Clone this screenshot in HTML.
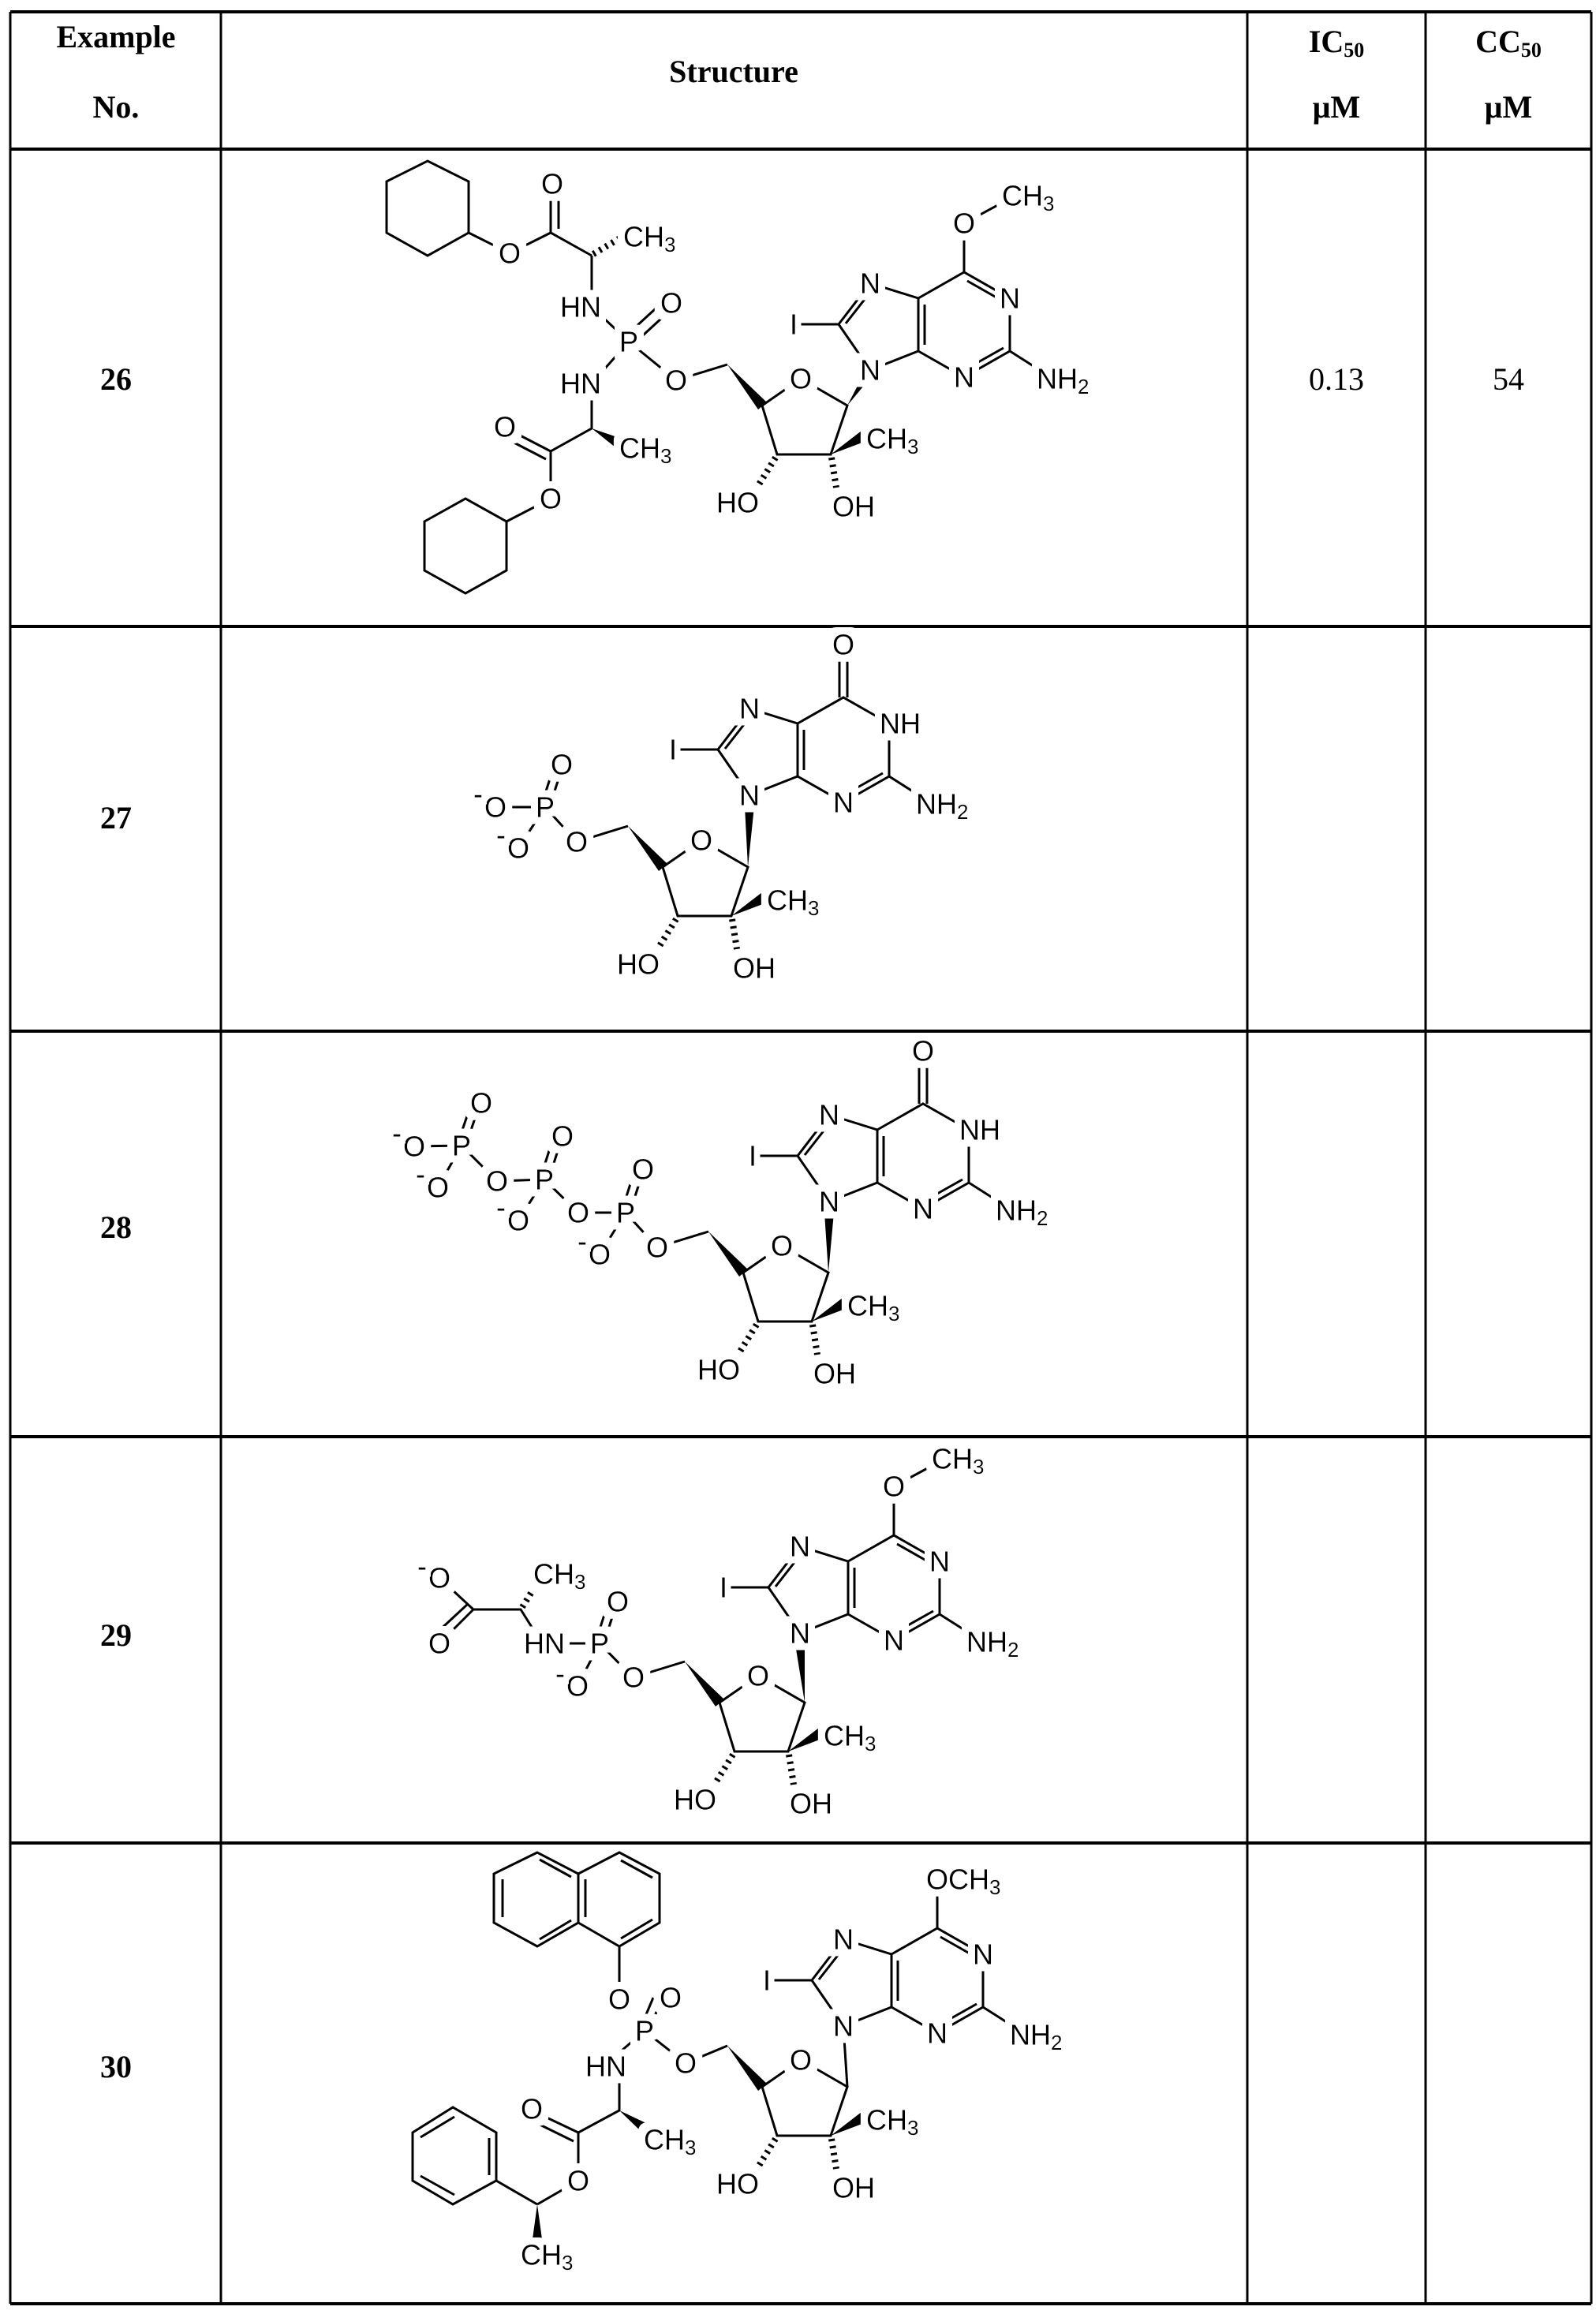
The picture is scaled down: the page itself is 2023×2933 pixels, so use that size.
<!DOCTYPE html>
<html><head><meta charset="utf-8"><style>
html,body{margin:0;padding:0;background:#fff;}
svg{display:block;}
.h{font-family:"Liberation Serif",serif;font-weight:bold;font-size:40px;text-anchor:middle;}
.v{font-family:"Liberation Serif",serif;font-size:40px;text-anchor:middle;}
.a{font-family:"Liberation Sans",sans-serif;font-size:36px;dominant-baseline:central;text-anchor:middle;fill:#000;filter:url(#halo);}
.s{text-anchor:start;}
.b{fill:none;stroke:#000;stroke-width:3;}
.hs{fill:none;stroke:#000;stroke-width:8;stroke-dasharray:3 6;}
</style></head><body>
<svg width="2023" height="2933" viewBox="0 0 2023 2933" xmlns="http://www.w3.org/2000/svg">
<defs>
<filter id="halo" x="-40%" y="-40%" width="180%" height="180%">
<feMorphology in="SourceAlpha" operator="dilate" radius="9" result="d"/>
<feFlood flood-color="#ffffff"/>
<feComposite in2="d" operator="in" result="w"/>
<feMerge><feMergeNode in="w"/><feMergeNode in="SourceGraphic"/></feMerge>
</filter>
</defs>
<rect width="2023" height="2933" fill="#fff"/>
<!-- table -->
<g stroke="#000" stroke-width="4">
<line x1="13" y1="15" x2="2017" y2="15"/>
<line x1="13" y1="189" x2="2017" y2="189"/>
<line x1="13" y1="794" x2="2017" y2="794"/>
<line x1="13" y1="1307" x2="2017" y2="1307"/>
<line x1="13" y1="1821" x2="2017" y2="1821"/>
<line x1="13" y1="2336" x2="2017" y2="2336"/>
<line x1="13" y1="2920" x2="2017" y2="2920"/>
</g>
<g stroke="#000" stroke-width="3">
<line x1="13" y1="15" x2="13" y2="2920"/>
<line x1="280" y1="15" x2="280" y2="2920"/>
<line x1="1581" y1="15" x2="1581" y2="2920"/>
<line x1="1807" y1="15" x2="1807" y2="2920"/>
<line x1="2017" y1="15" x2="2017" y2="2920"/>
</g>
<text class="h" x="147" y="60">Example</text>
<text class="h" x="147" y="149">No.</text>
<text class="h" x="930" y="104">Structure</text>
<text class="h" x="1694" y="66">IC<tspan font-size="26" dy="6">50</tspan></text>
<text class="h" x="1694" y="149">μM</text>
<text class="h" x="1912" y="66">CC<tspan font-size="26" dy="6">50</tspan></text>
<text class="h" x="1912" y="149">μM</text>
<text class="h" x="147" y="494">26</text>
<text class="v" x="1694" y="494">0.13</text>
<text class="v" x="1912" y="494">54</text>
<text class="h" x="147" y="1050">27</text>
<text class="h" x="147" y="1569">28</text>
<text class="h" x="147" y="2086">29</text>
<text class="h" x="147" y="2633">30</text>

<!-- ===== Row 26 ===== -->
<path class="b" d="M490 230 L542 204 L594 230 L594 295 L542 324 L490 295 Z M594 295 L646 321 L698 295 L750 324 M698 295 L698 240 M708 290 L708 245 M750 324 L750 389 L797 433 L750 486 L750 543 L698 572 L698 632 L642 661 M797 433 L857 482 M792 427 L843 380 M802 437 L853 390 M698 572 L642 543 M692 582 L638 554 M538 661 L590 632 L642 661 L642 723 L590 752 L538 723 Z"/>
<line class="hs" x1="752" y1="322" x2="789" y2="300"/>
<polygon points="750,543 780,567 788,556"/>
<text class="a" x="646" y="321">O</text>
<text class="a" x="700" y="233">O</text>
<text class="a s" x="790" y="300">CH<tspan font-size="26" dy="10">3</tspan></text>
<text class="a" x="736" y="389">HN</text>
<text class="a" x="797" y="433">P</text>
<text class="a" x="851" y="384">O</text>
<text class="a" x="736" y="486">HN</text>
<text class="a" x="640" y="541">O</text>
<text class="a s" x="785" y="568">CH<tspan font-size="26" dy="10">3</tspan></text>
<text class="a" x="698" y="632">O</text>
<g transform="translate(966,514)">
<path class="b" d="M0 0 L49 -34 L108 0 L87 62 L19 62 Z M-44 -52 L-109 -32"/>
<polygon points="-44,-52 -5,5 6,-4"/>
<polygon points="87,62 126,32 132,45"/>
<line class="hs" x1="17" y1="66" x2="-4" y2="100"/>
<line class="hs" x1="88" y1="66" x2="94" y2="104"/>
<text class="a" x="49" y="-34">O</text>
<text class="a" x="-109" y="-32">O</text>
<text class="a s" x="132" y="42">CH<tspan font-size="26" dy="10">3</tspan></text>
<text class="a" x="-31" y="123">HO</text>
<text class="a" x="116" y="128">OH</text>
</g>
<polygon points="1074,514 1099,466 1109,472"/>
<g transform="translate(1164,378)">
<path class="b" d="M0 0 L0 67 M8 8 L8 59 M0 0 L58 -33 L116 0 M62 -22 L106 3 M116 0 L116 67 L58 100 L0 67 M108 63 L60 90 M0 0 L-61 -19 L-101 33 L-61 91 L0 67 M-63 -5 L-92 32 M-101 33 L-152 33 M116 67 L160 95 M58 -33 L58 -95 L108 -122"/>
<text class="a" x="-61" y="-19">N</text>
<text class="a" x="116" y="0">N</text>
<text class="a" x="58" y="100">N</text>
<text class="a" x="-61" y="91">N</text>
<text class="a" x="-158" y="33">I</text>
<text class="a s" x="150" y="102">NH<tspan font-size="26" dy="10">2</tspan></text>
<text class="a" x="58" y="-95">O</text>
<text class="a s" x="106" y="-130">CH<tspan font-size="26" dy="10">3</tspan></text>
</g>

<!-- ===== Row 27 ===== -->
<path class="b" d="M628 1023 L691 1023 L731 1067 M691 1023 L657 1075 M688 1015 L703 969 M698 1018 L713 972"/>
<text class="a" x="691" y="1023">P</text>
<text class="a" x="712" y="969">O</text>
<text class="a" x="628" y="1023">O</text>
<text class="a" x="606" y="1006" font-size="24">-</text>
<text class="a" x="657" y="1075">O</text>
<text class="a" x="635" y="1058" font-size="24">-</text>
<g transform="translate(840,1099)">
<path class="b" d="M0 0 L49 -34 L108 0 L87 62 L19 62 Z M-44 -52 L-109 -32"/>
<polygon points="-44,-52 -5,5 6,-4"/>
<polygon points="87,62 126,32 132,45"/>
<line class="hs" x1="17" y1="66" x2="-4" y2="100"/>
<line class="hs" x1="88" y1="66" x2="94" y2="104"/>
<text class="a" x="49" y="-34">O</text>
<text class="a" x="-109" y="-32">O</text>
<text class="a s" x="132" y="42">CH<tspan font-size="26" dy="10">3</tspan></text>
<text class="a" x="-31" y="123">HO</text>
<text class="a" x="116" y="128">OH</text>
</g>
<polygon points="948,1099 944,1022 956,1022"/>
<g transform="translate(1011,917)">
<path class="b" d="M0 0 L0 67 M8 8 L8 59 M0 0 L58 -33 L116 0 M116 0 L116 67 L58 100 L0 67 M108 63 L60 90 M0 0 L-61 -19 L-101 33 L-61 91 L0 67 M-63 -5 L-92 32 M-101 33 L-152 33 M116 67 L160 95 M53 -33 L53 -95 M63 -33 L63 -95"/>
<text class="a" x="-61" y="-19">N</text>
<text class="a s" x="104" y="0">NH</text>
<text class="a" x="58" y="100">N</text>
<text class="a" x="-61" y="91">N</text>
<text class="a" x="-158" y="33">I</text>
<text class="a s" x="150" y="102">NH<tspan font-size="26" dy="10">2</tspan></text>
<text class="a" x="58" y="-100">O</text>
</g>

<!-- ===== Row 28 ===== -->
<path class="b" d="M525 1453 L585 1452 L630 1497 L690 1495 L733 1537 L793 1537 L833 1581 M585 1452 L555 1505 M690 1495 L657 1547 M793 1537 L760 1590 M582 1444 L597 1400 M592 1447 L607 1403 M687 1487 L701 1443 M697 1490 L711 1446 M790 1529 L804 1485 M800 1532 L814 1488"/>
<text class="a" x="585" y="1452">P</text>
<text class="a" x="610" y="1398">O</text>
<text class="a" x="525" y="1453">O</text>
<text class="a" x="503" y="1436" font-size="24">-</text>
<text class="a" x="555" y="1505">O</text>
<text class="a" x="533" y="1488" font-size="24">-</text>
<text class="a" x="630" y="1497">O</text>
<text class="a" x="690" y="1495">P</text>
<text class="a" x="713" y="1440">O</text>
<text class="a" x="657" y="1547">O</text>
<text class="a" x="635" y="1530" font-size="24">-</text>
<text class="a" x="733" y="1537">O</text>
<text class="a" x="793" y="1537">P</text>
<text class="a" x="815" y="1482">O</text>
<text class="a" x="760" y="1590">O</text>
<text class="a" x="738" y="1573" font-size="24">-</text>
<g transform="translate(942,1613)">
<path class="b" d="M0 0 L49 -34 L108 0 L87 62 L19 62 Z M-44 -52 L-109 -32"/>
<polygon points="-44,-52 -5,5 6,-4"/>
<polygon points="87,62 126,32 132,45"/>
<line class="hs" x1="17" y1="66" x2="-4" y2="100"/>
<line class="hs" x1="88" y1="66" x2="94" y2="104"/>
<text class="a" x="49" y="-34">O</text>
<text class="a" x="-109" y="-32">O</text>
<text class="a s" x="132" y="42">CH<tspan font-size="26" dy="10">3</tspan></text>
<text class="a" x="-31" y="123">HO</text>
<text class="a" x="116" y="128">OH</text>
</g>
<polygon points="1050,1613 1045,1537 1057,1537"/>
<g transform="translate(1112,1432)">
<path class="b" d="M0 0 L0 67 M8 8 L8 59 M0 0 L58 -33 L116 0 M116 0 L116 67 L58 100 L0 67 M108 63 L60 90 M0 0 L-61 -19 L-101 33 L-61 91 L0 67 M-63 -5 L-92 32 M-101 33 L-152 33 M116 67 L160 95 M53 -33 L53 -95 M63 -33 L63 -95"/>
<text class="a" x="-61" y="-19">N</text>
<text class="a s" x="104" y="0">NH</text>
<text class="a" x="58" y="100">N</text>
<text class="a" x="-61" y="91">N</text>
<text class="a" x="-158" y="33">I</text>
<text class="a s" x="150" y="102">NH<tspan font-size="26" dy="10">2</tspan></text>
<text class="a" x="58" y="-100">O</text>
</g>

<!-- ===== Row 29 ===== -->
<path class="b" d="M557 2000 L600 2040 L660 2040 L687 2083 L760 2083 L803 2127 M600 2040 L557 2083 M593 2033 L552 2071 M760 2083 L732 2137 M757 2075 L771 2031 M767 2078 L781 2034"/>
<line class="hs" x1="662" y1="2037" x2="680" y2="2008"/>
<text class="a" x="557" y="2000">O</text>
<text class="a" x="535" y="1985" font-size="24">-</text>
<text class="a" x="557" y="2083">O</text>
<text class="a s" x="676" y="1995">CH<tspan font-size="26" dy="10">3</tspan></text>
<text class="a" x="690" y="2083">HN</text>
<text class="a" x="760" y="2083">P</text>
<text class="a" x="783" y="2030">O</text>
<text class="a" x="732" y="2137">O</text>
<text class="a" x="710" y="2121" font-size="24">-</text>
<g transform="translate(912,2158)">
<path class="b" d="M0 0 L49 -34 L108 0 L87 62 L19 62 Z M-44 -52 L-109 -32"/>
<polygon points="-44,-52 -5,5 6,-4"/>
<polygon points="87,62 126,32 132,45"/>
<line class="hs" x1="17" y1="66" x2="-4" y2="100"/>
<line class="hs" x1="88" y1="66" x2="94" y2="104"/>
<text class="a" x="49" y="-34">O</text>
<text class="a" x="-109" y="-32">O</text>
<text class="a s" x="132" y="42">CH<tspan font-size="26" dy="10">3</tspan></text>
<text class="a" x="-31" y="123">HO</text>
<text class="a" x="116" y="128">OH</text>
</g>
<polygon points="1020,2158 1008,2084 1020,2082"/>
<g transform="translate(1075,1979)">
<path class="b" d="M0 0 L0 67 M8 8 L8 59 M0 0 L58 -33 L116 0 M62 -22 L106 3 M116 0 L116 67 L58 100 L0 67 M108 63 L60 90 M0 0 L-61 -19 L-101 33 L-61 91 L0 67 M-63 -5 L-92 32 M-101 33 L-152 33 M116 67 L160 95 M58 -33 L58 -95 L108 -122"/>
<text class="a" x="-61" y="-19">N</text>
<text class="a" x="116" y="0">N</text>
<text class="a" x="58" y="100">N</text>
<text class="a" x="-61" y="91">N</text>
<text class="a" x="-158" y="33">I</text>
<text class="a s" x="150" y="102">NH<tspan font-size="26" dy="10">2</tspan></text>
<text class="a" x="58" y="-95">O</text>
<text class="a s" x="106" y="-130">CH<tspan font-size="26" dy="10">3</tspan></text>
</g>

<!-- ===== Row 30 ===== -->
<path class="b" d="M681 2348 L626 2375 L626 2437 L681 2467 L733 2437 L733 2375 Z M733 2375 L785 2348 L836 2375 L836 2437 L785 2467 L733 2437 M637 2382 L637 2430 M684 2357 L724 2379 M684 2458 L724 2434 M787 2358 L827 2380 M787 2457 L827 2433 M742 2382 L742 2430 M785 2467 L785 2534 L817 2574 L869 2615 M817 2574 L765 2619 M812 2570 L828 2532 M822 2574 L838 2536 M785 2630 L785 2675 L733 2703 L733 2764 L681 2794 M733 2703 L674 2675 M727 2714 L670 2686 M574 2671 L523 2703 L523 2764 L574 2794 L629 2764 L629 2703 Z M576 2683 L533 2709 M576 2782 L533 2758 M620 2710 L620 2757 M629 2764 L681 2794"/>
<polygon points="785,2675 814,2703 821,2692"/>
<polygon points="681,2794 675,2838 687,2838"/>
<text class="a" x="785" y="2534">O</text>
<text class="a" x="850" y="2532">O</text>
<text class="a" x="817" y="2574">P</text>
<text class="a" x="768" y="2619">HN</text>
<text class="a s" x="816" y="2712">CH<tspan font-size="26" dy="10">3</tspan></text>
<text class="a" x="674" y="2673">O</text>
<text class="a" x="733" y="2764">O</text>
<text class="a s" x="660" y="2858">CH<tspan font-size="26" dy="10">3</tspan></text>
<g transform="translate(966,2645)">
<path class="b" d="M0 0 L49 -34 L108 0 L87 62 L19 62 Z M-44 -52 L-97 -30"/>
<polygon points="-44,-52 -5,5 6,-4"/>
<polygon points="87,62 126,32 132,45"/>
<line class="hs" x1="17" y1="66" x2="-4" y2="100"/>
<line class="hs" x1="88" y1="66" x2="94" y2="104"/>
<text class="a" x="49" y="-34">O</text>
<text class="a" x="-97" y="-30">O</text>
<text class="a s" x="132" y="42">CH<tspan font-size="26" dy="10">3</tspan></text>
<text class="a" x="-31" y="123">HO</text>
<text class="a" x="116" y="128">OH</text>
</g>
<path class="b" d="M1074 2645 L1069 2568"/>
<g transform="translate(1130,2477)">
<path class="b" d="M0 0 L0 67 M8 8 L8 59 M0 0 L58 -33 L116 0 M62 -22 L106 3 M116 0 L116 67 L58 100 L0 67 M108 63 L60 90 M0 0 L-61 -19 L-101 33 L-61 91 L0 67 M-63 -5 L-92 32 M-101 33 L-152 33 M116 67 L160 95 M58 -33 L58 -78"/>
<text class="a" x="-61" y="-19">N</text>
<text class="a" x="116" y="0">N</text>
<text class="a" x="58" y="100">N</text>
<text class="a" x="-61" y="91">N</text>
<text class="a" x="-158" y="33">I</text>
<text class="a s" x="150" y="102">NH<tspan font-size="26" dy="10">2</tspan></text>
<text class="a s" x="44" y="-95">OCH<tspan font-size="26" dy="10">3</tspan></text>
</g>
</svg>
</body></html>
